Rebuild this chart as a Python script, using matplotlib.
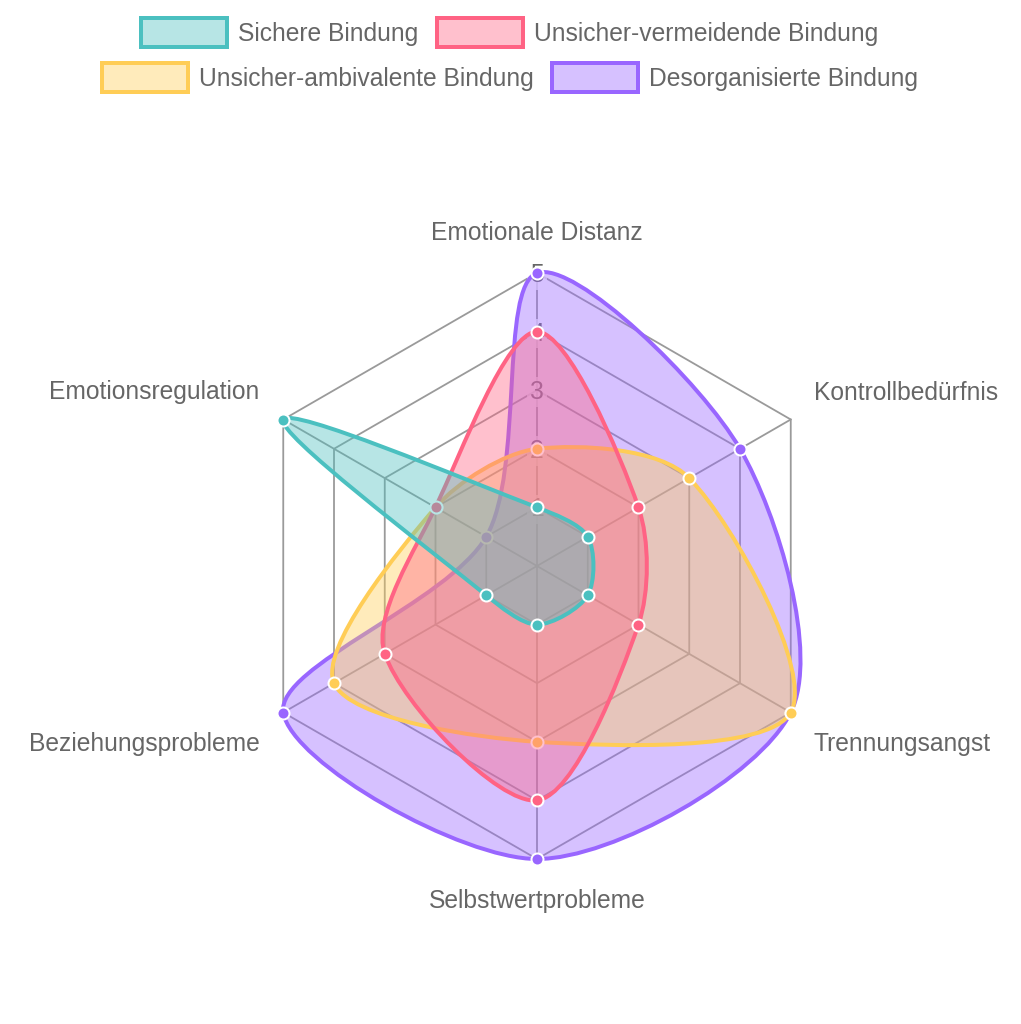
import numpy as np
import matplotlib
matplotlib.use("Agg")
import matplotlib.pyplot as plt
from matplotlib.path import Path
from matplotlib.patches import PathPatch, Rectangle

plt.rcParams["font.family"] = ["Liberation Sans", "DejaVu Sans"]

# Data
CATEGORIES = [
    "Emotionale Distanz",
    "Kontrollbedürfnis",
    "Trennungsangst",
    "Selbstwertprobleme",
    "Beziehungsprobleme",
    "Emotionsregulation",
]
SERIES_NAMES = [
    "Sichere Bindung",
    "Unsicher-vermeidende Bindung",
    "Unsicher-ambivalente Bindung",
    "Desorganisierte Bindung",
]
SICHER = [1, 1, 1, 1, 1, 5]
VERMEIDEND = [4, 2, 2, 4, 3, 2]
AMBIVALENT = [2, 3, 5, 3, 4, 2]
DESORGANISIERT = [5, 4, 5, 5, 5, 1]
TICKS = [1, 2, 3, 4, 5]

COLORS = ["#4BC0C0", "#FF6384", "#FFCD56", "#9966FF"]

# Layout (pixels)
W, H = 1021, 1024
CX, CY = 537, 566
R_MAX = 293
V_MAX = 5
TENSION = 0.3
PT = 72 / 100  # points per pixel
FS = 24.6 * PT
TEXT_COLOR = "#666666"
GRID_COLOR = "#9a9a9a"

# (dx, dy, ha) label offsets from the outer grid vertex
LABEL_POS = [
    (0, -40, "center"),
    (23, -27, "left"),
    (23, 31, "left"),
    (0, 42, "center"),
    (-24, 31, "right"),
    (-24, -27, "right"),
]
# legend: (box left x, row center y)
LEGEND_POS = [(141, 32), (437, 32), (102, 77), (552, 77)]
BOX_W, BOX_H = 86, 29


def to_xy(values):
    n = len(values)
    ang = np.deg2rad(-90 + 360 / n * np.arange(n))
    r = np.asarray(values, dtype=float) / V_MAX * R_MAX
    return np.column_stack([CX + r * np.cos(ang), CY + r * np.sin(ang)])


def spline_path(pts, t):
    # same control points as chart.js splineCurve, closed loop
    n = len(pts)
    prev_cp, next_cp = [], []
    for i in range(n):
        p0, p1, p2 = pts[i - 1], pts[i], pts[(i + 1) % n]
        d01 = np.hypot(*(p1 - p0))
        d12 = np.hypot(*(p2 - p1))
        s01 = d01 / (d01 + d12)
        s12 = d12 / (d01 + d12)
        prev_cp.append(p1 - t * s01 * (p2 - p0))
        next_cp.append(p1 + t * s12 * (p2 - p0))
    verts = [pts[0]]
    codes = [Path.MOVETO]
    for i in range(n):
        j = (i + 1) % n
        verts += [next_cp[i], prev_cp[j], pts[j]]
        codes += [Path.CURVE4] * 3
    return Path(verts, codes)


fig = plt.figure(figsize=(W / 100, H / 100), dpi=100)
ax = fig.add_axes([0, 0, 1, 1])
ax.set_xlim(0, W)
ax.set_ylim(H, 0)
ax.axis("off")

# grid
n = len(CATEGORIES)
for v in TICKS:
    g = to_xy([v] * n)
    g = np.vstack([g, g[:1]])
    ax.plot(g[:, 0], g[:, 1], color=GRID_COLOR, lw=1.3, zorder=1)
outer = to_xy([V_MAX] * n)
for x, y in outer:
    ax.plot([CX, x], [CY, y], color=GRID_COLOR, lw=1.3, zorder=1)

for v in TICKS:
    ax.text(CX, CY - v / V_MAX * R_MAX + 2, str(v), ha="center", va="center",
            fontsize=FS, color=TEXT_COLOR, zorder=2,
            bbox=dict(facecolor="white", alpha=0.75, edgecolor="none", pad=2))

for (x, y), lab, (dx, dy, ha) in zip(outer, CATEGORIES, LABEL_POS):
    ax.text(x + dx, y + dy, lab, ha=ha, va="center", fontsize=FS, color=TEXT_COLOR)

# datasets, last drawn first
series = [SICHER, VERMEIDEND, AMBIVALENT, DESORGANISIERT]
for k in range(len(series) - 1, -1, -1):
    pts = to_xy(series[k])
    path = spline_path(pts, TENSION)
    z = 10 + (len(series) - k) * 3
    ax.add_patch(PathPatch(path, facecolor=COLORS[k], alpha=0.4, edgecolor="none", zorder=z))
    ax.add_patch(PathPatch(path, facecolor="none", edgecolor=COLORS[k], lw=4 * PT,
                           joinstyle="round", zorder=z + 1))
    ax.plot(pts[:, 0], pts[:, 1], ls="none", marker="o", markersize=12 * PT,
            markerfacecolor=COLORS[k], markeredgecolor="white",
            markeredgewidth=2 * PT, zorder=z + 2)

# legend
for name, color, (bx, by) in zip(SERIES_NAMES, COLORS, LEGEND_POS):
    ax.add_patch(Rectangle((bx, by - BOX_H / 2), BOX_W, BOX_H, facecolor=color,
                           alpha=0.4, edgecolor="none", zorder=30))
    ax.add_patch(Rectangle((bx, by - BOX_H / 2), BOX_W, BOX_H, facecolor="none",
                           edgecolor=color, lw=4 * PT, zorder=31))
    ax.text(bx + BOX_W + 11, by + 2, name, ha="left", va="center", fontsize=FS,
            color=TEXT_COLOR, zorder=31)

fig.savefig("out.png", dpi=100, facecolor="white")
